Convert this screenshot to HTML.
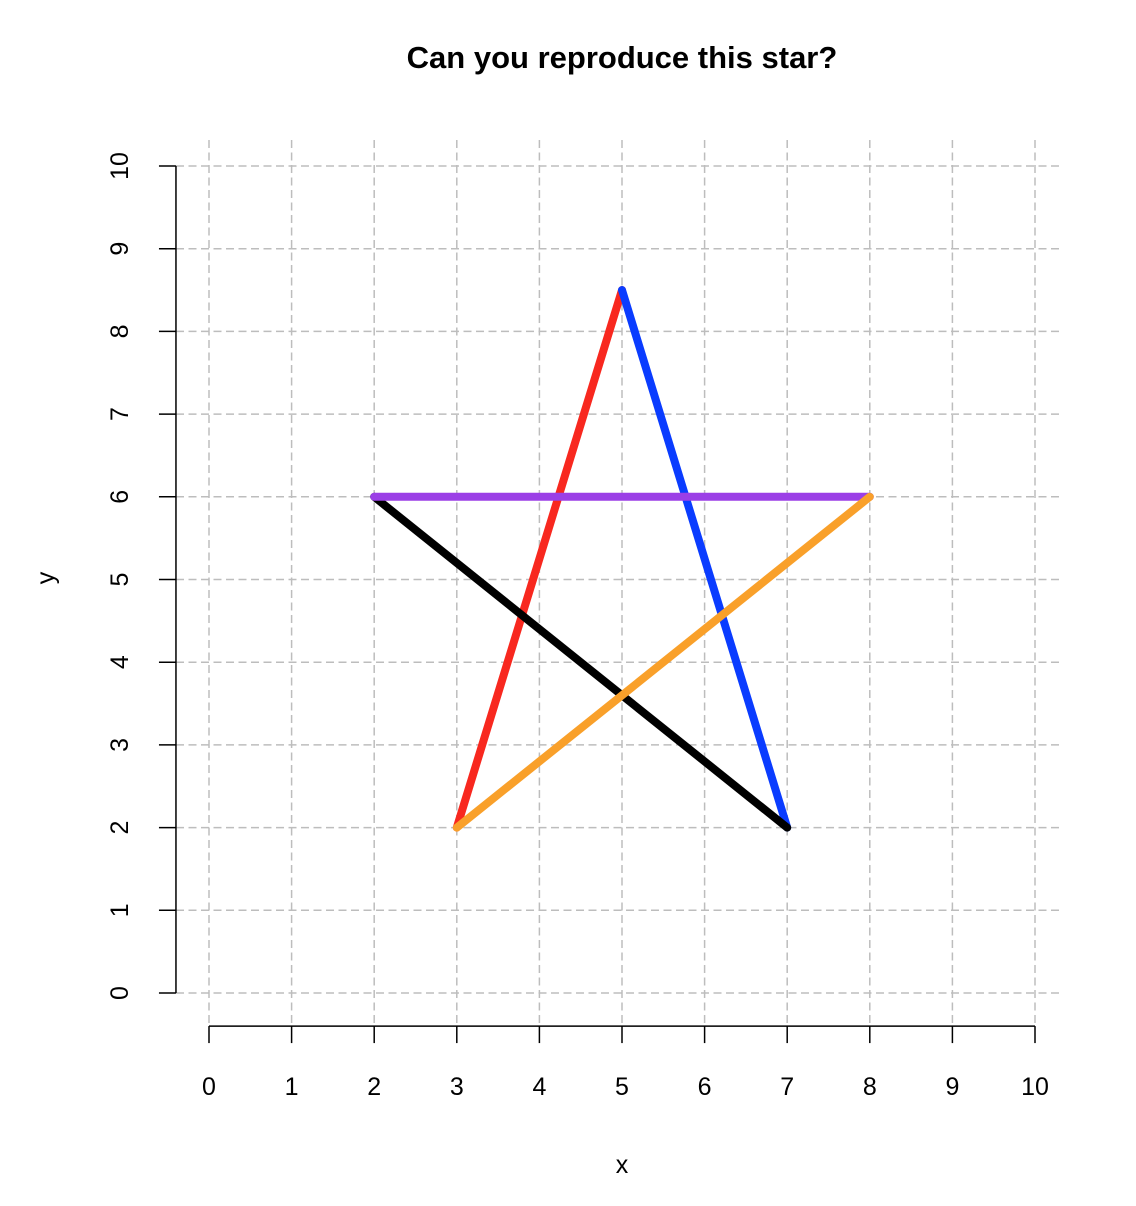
<!DOCTYPE html>
<html><head><meta charset="utf-8"><style>
body{margin:0;background:#fff}
svg{display:block;font-family:"Liberation Sans",Arial,sans-serif}
</style></head><body>
<svg id="chart" width="1136" height="1206" viewBox="0 0 1136 1206" xmlns="http://www.w3.org/2000/svg">
<rect width="1136" height="1206" fill="#fff"/>
<text x="622" y="68" text-anchor="middle" font-size="31" font-weight="bold">Can you reproduce this star?</text>
<text x="622" y="1173" text-anchor="middle" font-size="25">x</text>
<text transform="translate(54,578) rotate(-90)" text-anchor="middle" font-size="25">y</text>
<g id="grid"></g>
<g id="axes"></g>
<g id="series"></g>
</svg>
<script>
const ticks = [0,1,2,3,4,5,6,7,8,9,10];
const tickLabels = ["0","1","2","3","4","5","6","7","8","9","10"];
const segX0 = [3,5,7,2,8];
const segY0 = [2,8.5,2,6,6];
const segX1 = [5,7,2,8,3];
const segY1 = [8.5,2,6,6,2];
const segColors = ["#f8281f","#0a3cff","#000000","#9b3fe6","#f9a02a"];
const segNames = ["segment-red","segment-blue","segment-black","segment-purple","segment-orange"];

const sx = v => 209 + v*82.6;
const sy = v => 993 - v*82.7;
const NS = "http://www.w3.org/2000/svg";
function mk(tag, attrs, parent){const e=document.createElementNS(NS,tag);for(const k in attrs)e.setAttribute(k,attrs[k]);parent.appendChild(e);return e;}
const grid=document.getElementById('grid'), axes=document.getElementById('axes'), series=document.getElementById('series');
const xl=sx(-0.4), yb=sy(-0.4);
const gxl=176, gxr=1062, gyt=140, gyb=1026;
ticks.forEach((t,i)=>{
  let l=mk('line',{x1:sx(t),x2:sx(t),y1:gyt,y2:gyb,stroke:'#bdbdbd','stroke-width':1.5,'stroke-dasharray':'8,4.5'},grid);
  
  
  l=mk('line',{x1:gxl,x2:gxr,y1:sy(t),y2:sy(t),stroke:'#bdbdbd','stroke-width':1.5,'stroke-dasharray':'8,4.5'},grid);
  
  
  l=mk('line',{x1:sx(t),x2:sx(t),y1:yb,y2:yb+17,stroke:'#000','stroke-width':1.5},axes);
  
  
  let tx=mk('text',{x:sx(t),y:yb+69,'text-anchor':'middle','font-size':25},axes);
  tx.textContent=tickLabels[i];
  
  
  l=mk('line',{x1:xl-17,x2:xl,y1:sy(t),y2:sy(t),stroke:'#000','stroke-width':1.5},axes);
  
  
  tx=mk('text',{transform:`translate(${xl-48},${sy(t)}) rotate(-90)`,'text-anchor':'middle','font-size':25},axes);
  tx.textContent=tickLabels[i];
  
  
});
let a=mk('line',{x1:sx(0),x2:sx(10),y1:yb,y2:yb,stroke:'#000','stroke-width':1.5},axes);


a=mk('line',{x1:xl,x2:xl,y1:sy(0),y2:sy(10),stroke:'#000','stroke-width':1.5},axes);


segX0.forEach((_,i)=>{
  const s=mk('line',{x1:sx(segX0[i]),y1:sy(segY0[i]),x2:sx(segX1[i]),y2:sy(segY1[i]),stroke:segColors[i],'stroke-width':8,'stroke-linecap':'round'},series);
  
  
});
</script>
</body></html>
